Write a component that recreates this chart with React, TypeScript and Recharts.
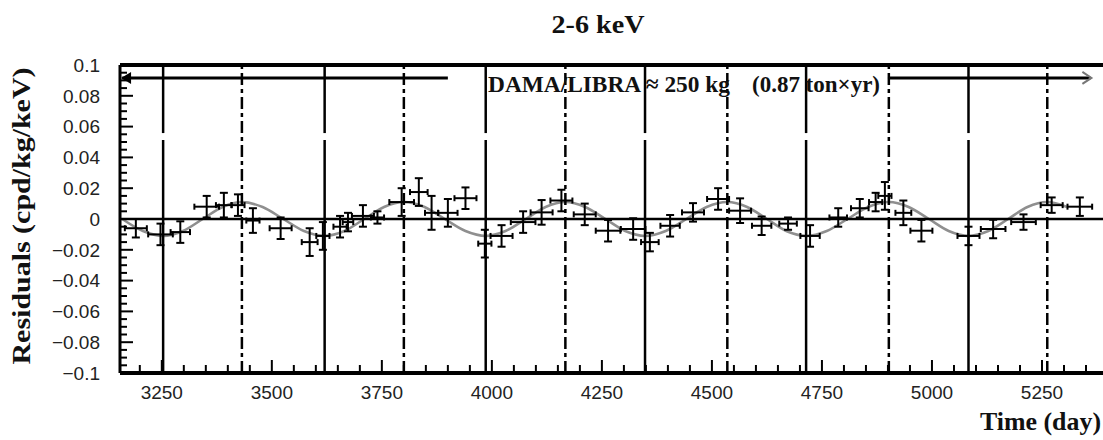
import {
  ComposedChart,
  Line,
  Scatter,
  ErrorBar,
  XAxis,
  YAxis,
  ReferenceLine,
  ReferenceDot,
} from 'recharts'

// Time bins (days since 1 Jan 1995) and the measured residual rate, 2-6 keV
const DAYS = [
  3191, 3247, 3292, 3352, 3391, 3423, 3457, 3520, 3586, 3616, 3655, 3673, 3707, 3740,
  3795, 3834, 3863, 3900, 3940, 3984, 4022, 4071, 4113, 4158, 4211, 4264, 4321, 4359,
  4405, 4457, 4514, 4564, 4613, 4673, 4723, 4787, 4836, 4872, 4893, 4935, 4976, 5083,
  5139, 5208, 5272, 5336,
]
const RESIDUALS = [
  -0.006, -0.01, -0.0085, 0.008, 0.009, 0.009, -0.001, -0.006, -0.015, -0.011, -0.005, -0.002,
  0.002, 0.001, 0.011, 0.0175, 0.004, 0.004, 0.0135, -0.016, -0.011, -0.002, 0.0043, 0.012,
  0.003, -0.0076, -0.0065, -0.015, -0.0044, 0.0043, 0.013, 0.0054, -0.0044, -0.003, -0.011,
  0.001, 0.007, 0.011, 0.015, 0.004, -0.0076, -0.011, -0.0065, -0.002, 0.009, 0.008,
]
const DAY_ERRORS = [
  25, 28, 22, 28, 18, 15, 15, 25, 18, 15, 15, 12, 25, 15, 28, 20, 15, 22, 25, 15, 25, 28, 25,
  25, 25, 28, 28, 20, 22, 25, 25, 25, 22, 20, 22, 20, 20, 15, 15, 18, 25, 25, 28, 28, 25, 28,
]
const RESIDUAL_ERRORS = [
  0.006, 0.007, 0.007, 0.007, 0.008, 0.007, 0.008, 0.007, 0.009, 0.009, 0.007, 0.006, 0.007,
  0.004, 0.009, 0.009, 0.011, 0.009, 0.007, 0.009, 0.007, 0.007, 0.008, 0.007, 0.007, 0.007,
  0.007, 0.006, 0.007, 0.006, 0.007, 0.008, 0.006, 0.004, 0.007, 0.006, 0.006, 0.006, 0.009,
  0.008, 0.007, 0.006, 0.006, 0.005, 0.005, 0.006,
]

// Grey modulation curve at its extremes and in between
const FIT_DAYS = [
  3160, 3207, 3253, 3298, 3343, 3388, 3432, 3479, 3526, 3573, 3620, 3665, 3710, 3755, 3800,
  3847, 3893, 3940, 3986, 4031, 4077, 4122, 4167, 4212, 4258, 4303, 4348, 4395, 4442, 4488,
  4535, 4580, 4625, 4669, 4714, 4761, 4808, 4855, 4902, 4947, 4993, 5038, 5083, 5128, 5173,
  5217, 5262, 5307,
]
const FIT_VALUES = [
  0, -0.0078, -0.011, -0.0078, 0, 0.0078, 0.011, 0.0078, 0, -0.0078, -0.011, -0.0078, 0,
  0.0078, 0.011, 0.0078, 0, -0.0078, -0.011, -0.0078, 0, 0.0078, 0.011, 0.0078, 0, -0.0078,
  -0.011, -0.0078, 0, 0.0078, 0.011, 0.0078, 0, -0.0078, -0.011, -0.0078, 0, 0.0078, 0.011,
  0.0078, 0, -0.0078, -0.011, -0.0078, 0, 0.0078, 0.011, 0.0078,
]

// Year markers: solid at the expected minima, dash-dot at the expected maxima (~2 June)
const MINIMA_DAYS = [3253, 3620, 3986, 4348, 4714, 5083]
const MAXIMA_DAYS = [3432, 3800, 4167, 4535, 4902, 5262]

const X_TICKS = [3250, 3500, 3750, 4000, 4250, 4500, 4750, 5000, 5250]
const Y_TICKS = [0.1, 0.08, 0.06, 0.04, 0.02, 0, -0.02, -0.04, -0.06, -0.08, -0.1]

const X_MIN = 3155
const X_MAX = 5400
const Y_MIN = -0.1
const Y_MAX = 0.1
const ARROW_Y = 0.0916
// the solid markers are broken by a short gap just under the legend
const GAP_TOP = 0.0558
const GAP_BOTTOM = 0.0513

// pixel -> data conversions for the inward tick marks (0.44 px/day, 1540 px/unit)
const PX_DAY = 1 / 0.44
const PX_RES = 1 / 1540

const points = DAYS.map((day, i) => ({
  day,
  resid: RESIDUALS[i],
  eDay: DAY_ERRORS[i],
  eRes: RESIDUAL_ERRORS[i],
}))
const fit = FIT_DAYS.map((day, i) => ({ day, value: FIT_VALUES[i] }))

// minor ticks every 50 days on x and every 0.005 on y
const xMinor: number[] = []
for (let d = 3200; d < X_MAX; d += 50) xMinor.push(d)
const yMinor: number[] = []
for (let k = -19; k <= 19; k++) yMinor.push(k * 0.005)

function formatY(v: number): string {
  if (v === 0) return '0'
  return (v < 0 ? '\u2212' : '') + String(Math.abs(v))
}

const SERIF = '"Liberation Serif", "DejaVu Serif", serif'
const SANS = '"Liberation Sans", Arial, sans-serif'

export default function App() {
  return (
    <div
      style={{
        position: 'absolute',
        left: 0,
        top: 0,
        width: 1103,
        height: 440,
        overflow: 'hidden',
        background: '#fff',
      }}
    >
      <ComposedChart width={1110} height={440} margin={{ top: 65, right: 2, bottom: 0, left: 0 }}>
        <XAxis
          dataKey="day"
          type="number"
          domain={[X_MIN, X_MAX]}
          allowDataOverflow
          ticks={X_TICKS}
          height={67}
          axisLine={false}
          tickLine={false}
          tickSize={0}
          tickMargin={13}
          tick={{ fontSize: 19, fill: '#222', fontFamily: SANS }}
        />
        <YAxis
          type="number"
          domain={[Y_MIN, Y_MAX]}
          allowDataOverflow
          ticks={Y_TICKS}
          width={120}
          axisLine={false}
          tickLine={false}
          tickSize={0}
          tickMargin={20}
          tickFormatter={formatY}
          tick={{ fontSize: 19, fill: '#222', fontFamily: SANS }}
        />

        <Line
          data={fit}
          dataKey="value"
          type="monotone"
          stroke="#8f8f8f"
          strokeWidth={2.5}
          dot={false}
          activeDot={false}
          isAnimationActive={false}
        />

        {MINIMA_DAYS.map((d) => (
          <ReferenceLine
            key={'minTop' + d}
            segment={[{ x: d, y: Y_MAX }, { x: d, y: GAP_TOP }]}
            stroke="#000"
            strokeWidth={2.5}
          />
        ))}
        {MINIMA_DAYS.map((d) => (
          <ReferenceLine
            key={'minBot' + d}
            segment={[{ x: d, y: GAP_BOTTOM }, { x: d, y: Y_MIN }]}
            stroke="#000"
            strokeWidth={2.5}
          />
        ))}
        {MAXIMA_DAYS.map((d) => (
          <ReferenceLine key={'max' + d} x={d} stroke="#000" strokeWidth={2.5} strokeDasharray="12 4 4 4" />
        ))}

        <ReferenceLine y={0} stroke="#000" strokeWidth={2.5} />

        {/* frame */}
        <ReferenceLine y={Y_MAX} stroke="#000" strokeWidth={4} />
        <ReferenceLine y={Y_MIN} stroke="#000" strokeWidth={4} />
        <ReferenceLine x={X_MIN} stroke="#000" strokeWidth={3} />

        {/* inward tick marks */}
        {xMinor.map((d) => (
          <ReferenceLine
            key={'xt' + d}
            segment={[
              { x: d, y: Y_MIN },
              { x: d, y: Y_MIN + (d % 250 === 0 ? 13 : 8) * PX_RES },
            ]}
            stroke="#000"
            strokeWidth={2}
          />
        ))}
        {yMinor.map((v, i) => (
          <ReferenceLine
            key={'yt' + i}
            segment={[
              { x: X_MIN, y: v },
              { x: X_MIN + ((i + 1) % 4 === 0 ? 13 : 7) * PX_DAY, y: v },
            ]}
            stroke="#000"
            strokeWidth={2}
          />
        ))}

        {/* exposure arrow across the top */}
        <ReferenceLine segment={[{ x: 3160, y: ARROW_Y }, { x: 3900, y: ARROW_Y }]} stroke="#000" strokeWidth={3} />
        <ReferenceLine segment={[{ x: 4900, y: ARROW_Y }, { x: 5360, y: ARROW_Y }]} stroke="#000" strokeWidth={3} />
        <ReferenceDot
          x={3162}
          y={ARROW_Y}
          r={4}
          shape={(p: { cx: number; cy: number }) => (
            <path d={`M${p.cx - 2},${p.cy} L${p.cx + 8},${p.cy - 6} L${p.cx + 8},${p.cy + 6} Z`} fill="#000" />
          )}
        />
        <ReferenceDot
          x={5360}
          y={ARROW_Y}
          r={4}
          shape={(p: { cx: number; cy: number }) => (
            <path
              d={`M${p.cx - 8},${p.cy - 6} L${p.cx + 1},${p.cy} L${p.cx - 8},${p.cy + 6}`}
              fill="none"
              stroke="#777"
              strokeWidth={2}
            />
          )}
        />

        <Scatter data={points} dataKey="resid" shape={() => <g />} isAnimationActive={false}>
          <ErrorBar dataKey="eRes" direction="y" width={4} stroke="#000" strokeWidth={2} isAnimationActive={false} />
          <ErrorBar dataKey="eDay" direction="x" width={3} stroke="#000" strokeWidth={2} isAnimationActive={false} />
        </Scatter>
      </ComposedChart>

      <svg
        width={1103}
        height={440}
        style={{ position: 'absolute', left: 0, top: 0, pointerEvents: 'none' }}
      >
        <g fontFamily={SERIF} fontWeight="bold" fill="#111">
          <text x={598} y={33} fontSize={26} textAnchor="middle" textLength={93} lengthAdjust="spacingAndGlyphs">
            2-6 keV
          </text>
          <text
            x={30}
            y={216}
            fontSize={25}
            textAnchor="middle"
            transform="rotate(-90, 30, 216)"
            textLength={297}
            lengthAdjust="spacingAndGlyphs"
          >
            Residuals (cpd/kg/keV)
          </text>
          <text x={488} y={92} fontSize={24} textLength={242} lengthAdjust="spacingAndGlyphs">
            DAMA/LIBRA ≈ 250 kg
          </text>
          <text x={752} y={92} fontSize={24} textLength={128} lengthAdjust="spacingAndGlyphs">
            (0.87 ton×yr)
          </text>
          <text x={980} y={430} fontSize={26} textLength={121} lengthAdjust="spacingAndGlyphs">
            Time (day)
          </text>
        </g>
      </svg>
    </div>
  )
}
